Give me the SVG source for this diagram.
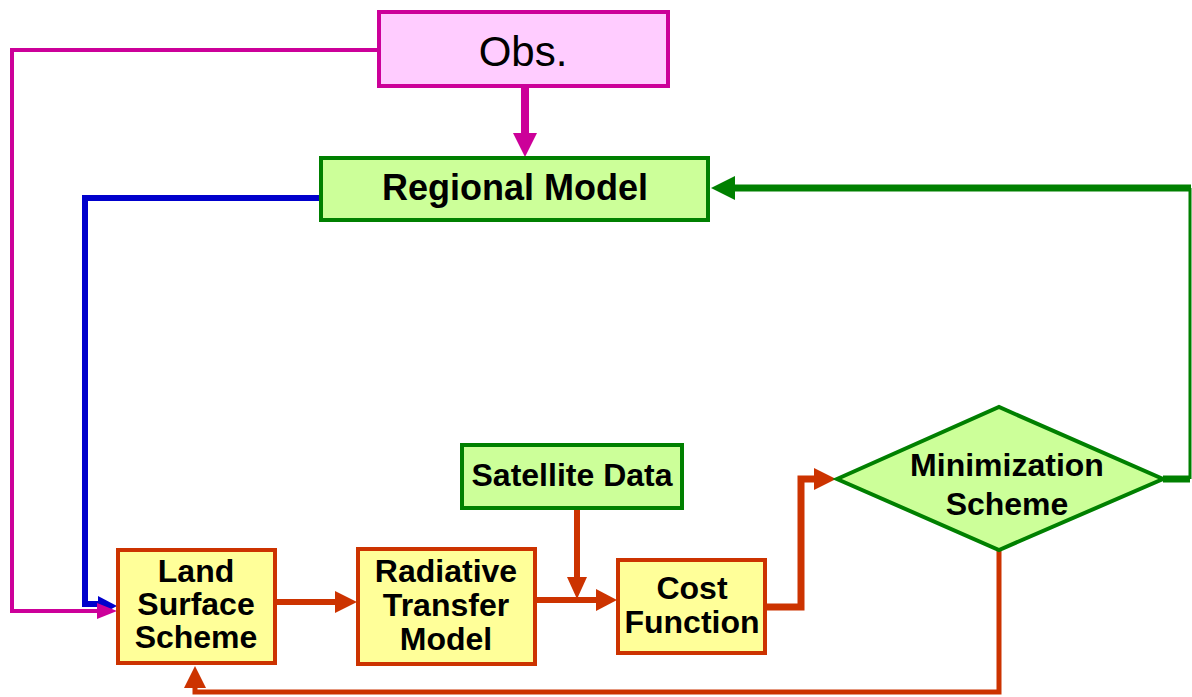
<svg xmlns="http://www.w3.org/2000/svg" width="1192" height="697" viewBox="0 0 1192 697">
<style>
text{font-family:"Liberation Sans",Arial,sans-serif;fill:#000;text-anchor:middle}
.b{font-weight:bold;font-size:32px}
.red{fill:#FFFF99;stroke:#CC3300;stroke-width:4}
.grn{fill:#CCFF99;stroke:#008000;stroke-width:4}
.line{fill:none;stroke-linejoin:miter;stroke-linecap:butt}
</style>
<rect width="1192" height="697" fill="#fff"/>
<g id="connectors">
  <!-- Obs to Land surface (magenta) -->
  <path class="line" d="M378,50 H12 V611 H100" stroke="#CC0099" stroke-width="4"/>
  <!-- Regional Model to Land surface (blue) -->
  <path class="line" d="M321,198 H85 V604 H102" stroke="#0000CC" stroke-width="6"/>
  <polygon points="98,596 117,606 98,616" fill="#0000CC"/>
  <polygon points="97,603 117,611 97,619" fill="#CC0099"/>
  <!-- Obs to Regional Model -->
  <path class="line" d="M525,87 V135" stroke="#CC0099" stroke-width="8"/>
  <polygon points="513,133 537,133 525,157" fill="#CC0099"/>
  <!-- Land -> Radiative -->
  <path class="line" d="M275,602 H338" stroke="#CC3300" stroke-width="6"/>
  <polygon points="335,591 357,602 335,613" fill="#CC3300"/>
  <!-- Radiative -> Cost -->
  <path class="line" d="M535,600 H598" stroke="#CC3300" stroke-width="6"/>
  <polygon points="596,589 617,600 596,611" fill="#CC3300"/>
  <!-- Satellite -> junction -->
  <path class="line" d="M577,508 V578" stroke="#CC3300" stroke-width="6"/>
  <polygon points="567,577 587,577 577,599" fill="#CC3300"/>
  <!-- Cost -> Minimization -->
  <path class="line" d="M766,607 H801 V479 H816" stroke="#CC3300" stroke-width="7"/>
  <polygon points="814,468 836,479 814,490" fill="#CC3300"/>
  <!-- Minimization -> Land (feedback) -->
  <path class="line" d="M999,550 V692 H195 V686" stroke="#CC3300" stroke-width="5"/>
  <polygon points="184,688 206,688 195,666" fill="#CC3300"/>
  <!-- Minimization -> Regional Model (green) -->
  <path class="line" d="M1163,479 H1190" stroke="#008000" stroke-width="7"/>
  <path class="line" d="M1190,479 V188" stroke="#008000" stroke-width="3"/>
  <path class="line" d="M1191,188 H733" stroke="#008000" stroke-width="7"/>
  <polygon points="735,176 735,200 711,188" fill="#008000"/>
</g>
<g id="obs">
  <rect x="379" y="12" width="289" height="74" fill="#FFCCFF" stroke="#CC0099" stroke-width="4"/>
  <text x="523" y="66" font-size="42">Obs.</text>
</g>
<g id="regional-model">
  <rect class="grn" x="321" y="158" width="387" height="62"/>
  <text x="515" y="200" font-size="36" font-weight="bold">Regional Model</text>
</g>
<g id="satellite-data">
  <rect class="grn" x="462" y="445" width="220" height="63"/>
  <text class="b" x="572" y="486">Satellite Data</text>
</g>
<g id="land-surface-scheme">
  <rect class="red" x="118" y="550" width="157" height="113"/>
  <text class="b" x="196" y="582">Land</text>
  <text class="b" x="196" y="615">Surface</text>
  <text class="b" x="196" y="648">Scheme</text>
</g>
<g id="radiative-transfer-model">
  <rect class="red" x="358" y="549" width="177" height="115"/>
  <text class="b" x="446" y="582">Radiative</text>
  <text class="b" x="446" y="616">Transfer</text>
  <text class="b" x="446" y="650">Model</text>
</g>
<g id="cost-function">
  <rect class="red" x="618" y="560" width="147" height="93"/>
  <text class="b" x="692" y="599">Cost</text>
  <text class="b" x="692" y="633">Function</text>
</g>
<g id="minimization-scheme">
  <polygon points="837,479 999,407 1163,479 999,550" fill="#CCFF99" stroke="#008000" stroke-width="4"/>
  <text class="b" x="1007" y="476">Minimization</text>
  <text class="b" x="1007" y="515">Scheme</text>
</g>
</svg>
